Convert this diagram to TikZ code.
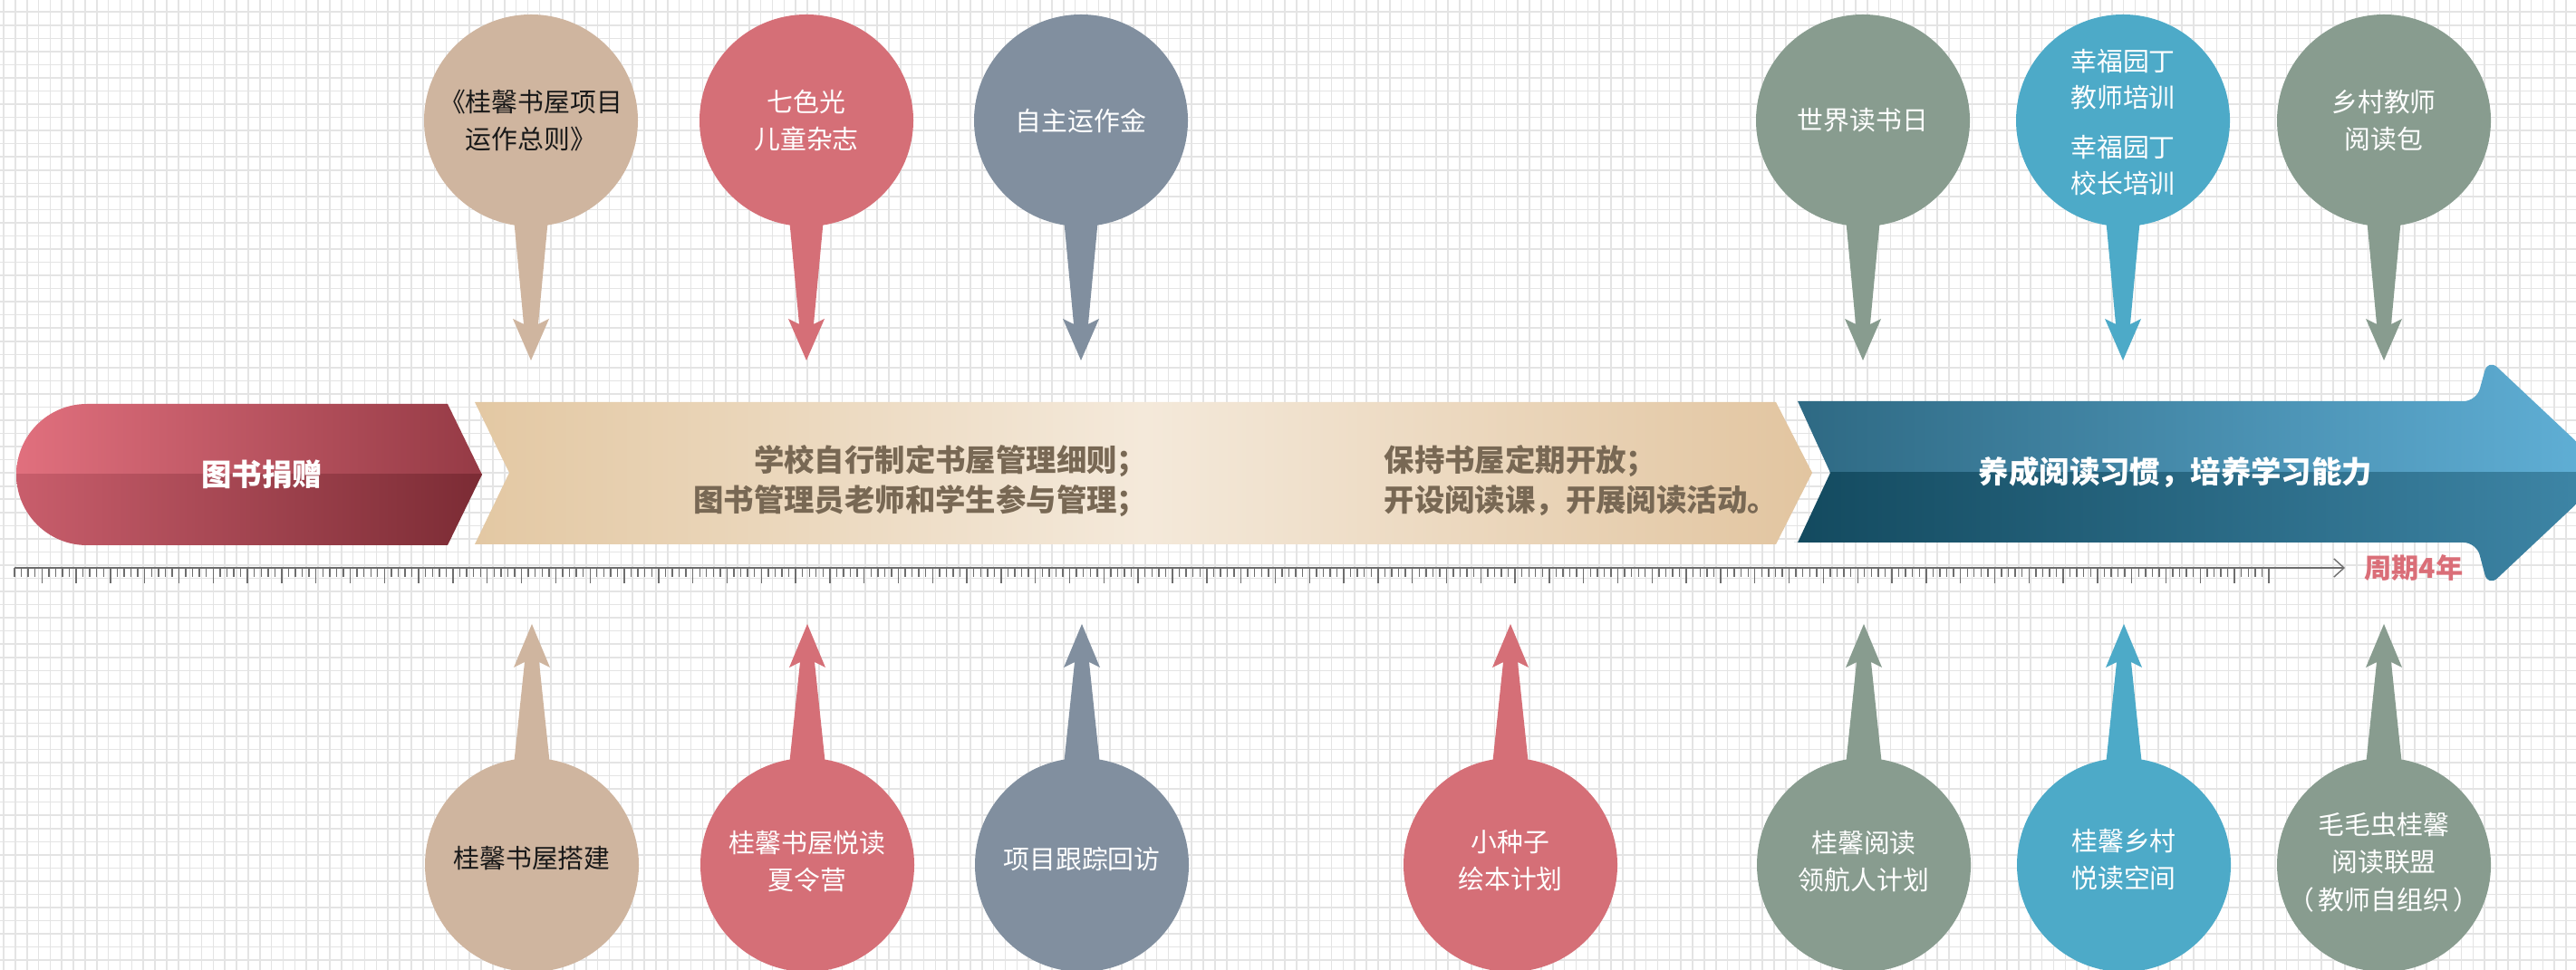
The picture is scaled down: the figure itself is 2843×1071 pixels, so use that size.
\documentclass[tikz,border=0pt]{standalone}
\usepackage{fontspec}
\newfontfamily\cjk{Noto Sans CJK SC}
\usetikzlibrary{shapes.geometric,arrows.meta}
\definecolor{gridc}{HTML}{E4E4E4}
\definecolor{ctan}{HTML}{CFB59F}
\definecolor{cpink}{HTML}{D56F77}
\definecolor{cslate}{HTML}{818F9F}
\definecolor{csage}{HTML}{889C8F}
\definecolor{cblue}{HTML}{4DAAC8}
\definecolor{pinkTL}{HTML}{E1707E}
\definecolor{pinkTR}{HTML}{953A45}
\definecolor{pinkBL}{HTML}{C95E6C}
\definecolor{pinkBR}{HTML}{7B2B34}
\definecolor{tanL}{HTML}{E3C8A3}
\definecolor{tanM}{HTML}{F4E9DA}
\definecolor{tanR}{HTML}{E2C5A0}
\definecolor{blueTL}{HTML}{2E6983}
\definecolor{blueTR}{HTML}{61B1D8}
\definecolor{blueBL}{HTML}{134A5F}
\definecolor{blueBR}{HTML}{3F87A8}
\definecolor{tantext}{HTML}{786854}
\definecolor{rulec}{HTML}{6E6E6E}
\definecolor{cycle4}{HTML}{DA6E78}
\newcommand\stemdown[2]{\fill[#2,shift={(#1.center)}] (-20,97) -- (-8,225) -- (-20,219) -- (0,265) -- (20,219) -- (8,225) -- (20,97) -- cycle;}
\newcommand\stemup[2]{\fill[#2,shift={(#1.center)}] (-20,-110) -- (-8,-224) -- (-20,-218) -- (0,-266) -- (20,-218) -- (8,-224) -- (20,-110) -- cycle;}
\tikzset{
  gridline/.style={draw=gridc,line width=0.45pt},
  bubble/.style={ellipse,minimum width=2.36cm,minimum height=2.34cm,inner sep=0pt,draw=none},
  ctext/.style={font=\cjk\fontsize{8.2pt}{11.8pt}\selectfont,align=center,text=white,inner sep=0pt},
  bandtext/.style={font=\cjk\bfseries\fontsize{9.5pt}{12.5pt}\selectfont,inner sep=0pt},
  tick/.style={draw=rulec,line width=0.4pt}
}
\begin{document}
\begin{tikzpicture}[x=0.01cm,y=-0.01cm]
\useasboundingbox (0,0) rectangle (2843,1071);
\clip (0,0) rectangle (2843,1071);
\fill[white] (0,0) rectangle (2843,1071);
% grid
\foreach \k in {0,...,221} \draw[gridline] ({4+12.855*\k},0) -- ({4+12.855*\k},1071);
\foreach \k in {0,...,73} \draw[gridline] (0,{13.3+14.54*\k}) -- (2843,{13.3+14.54*\k});
% pink band
\begin{scope}
\clip (494,446) -- (532,524) -- (494,602) -- (96,602) arc[start angle=90,end angle=270,radius=78] -- cycle;
\shade[left color=pinkTL,right color=pinkTR] (16,440) rectangle (534,524);
\shade[left color=pinkBL,right color=pinkBR] (16,524) rectangle (534,606);
\end{scope}
% tan band
\shade[left color=tanL,right color=tanR,middle color=tanM] (524,444) -- (562,522) -- (524,601) -- (1960,601) -- (2000,522) -- (1960,444) -- cycle;
% blue arrow
\begin{scope}
\clip (1990,443) [rounded corners=4pt] -- (2733,443) -- (2746,396) -- (2880,522) -- (2746,648) -- (2733,599) -- (1990,599) [sharp corners] -- (1984,599) -- (2020,522) -- (1984,443) -- cycle;
\shade[left color=blueTL,right color=blueTR] (1980,390) rectangle (2885,522);
\shade[left color=blueBL,right color=blueBR] (1980,522) rectangle (2885,655);
\end{scope}
% band texts
\node[bandtext,text=white] (p1) at (289,524) {图书捐赠};
\node[bandtext,text=tantext,align=right,anchor=east] (p2) at (1267,531) {学校自行制定书屋管理细则；\\图书管理员老师和学生参与管理；};
\node[bandtext,text=tantext,align=left,anchor=west] (p3) at (1527,531) {保持书屋定期开放；\\开设阅读课，开展阅读活动。};
\node[bandtext,text=white] (p4) at (2401,522) {养成阅读习惯，培养学习能力};
% ruler
\coordinate (r0) at (16,627);
\coordinate (r1) at (2588,627);
\draw[tick,-{Straight Barb[length=3.2pt,width=5.8pt]}] (r0) -- (r1);
\foreach \i in {0,...,329}{
  \pgfmathtruncatemacro\m{mod(\i,5)}
  \ifnum\m=4
    \draw[tick] ({16+7.562*\i},627) -- ++(0,17);
  \else
    \draw[tick] ({16+7.562*\i},627) -- ++(0,10);
  \fi
}
\node[font=\cjk\bfseries\fontsize{8.6pt}{10pt}\selectfont,text=cycle4,inner sep=0pt] (cyc) at (2664,627) {周期4年};
% top bubbles
\coordinate (T1) at (586,133);
\coordinate (T2) at (890,133);
\coordinate (T3) at (1193,133);
\coordinate (T4) at (2056,133);
\coordinate (T5) at (2343,133);
\coordinate (T6) at (2631,133);
\node[bubble] (t1) at (T1) {};
\node[bubble] (t2) at (T2) {};
\node[bubble] (t3) at (T3) {};
\node[bubble] (t4) at (T4) {};
\node[bubble] (t5) at (T5) {};
\node[bubble] (t6) at (T6) {};
\stemdown{t1}{ctan}
\stemdown{t2}{cpink}
\stemdown{t3}{cslate}
\stemdown{t4}{csage}
\stemdown{t5}{cblue}
\stemdown{t6}{csage}
\fill[ctan] (t1.center) ellipse[x radius=118,y radius=117];
\fill[cpink] (t2.center) ellipse[x radius=118,y radius=117];
\fill[cslate] (t3.center) ellipse[x radius=118,y radius=117];
\fill[csage] (t4.center) ellipse[x radius=118,y radius=117];
\fill[cblue] (t5.center) ellipse[x radius=118,y radius=117];
\fill[csage] (t6.center) ellipse[x radius=118,y radius=117];
\node[ctext,text=black!90] (t1x) at (t1) {《桂馨书屋项目\\运作总则》};
\node[ctext] (t2x) at (t2) {七色光\\儿童杂志};
\node[ctext] (t3x) at (t3) {自主运作金};
\node[ctext] (t4x) at (t4) {世界读书日};
\node[ctext,font=\cjk\fontsize{8.2pt}{11.4pt}\selectfont] (t5x) at ([yshift=-0.02cm]t5.center) {幸福园丁\\教师培训\\[4.3pt]幸福园丁\\校长培训};
\node[ctext] (t6x) at (t6) {乡村教师\\阅读包};
% bottom bubbles
\node[bubble] (b1) at (587,955) {};
\node[bubble] (b2) at (891,955) {};
\node[bubble] (b3) at (1194,955) {};
\node[bubble] (b4) at (1667,955) {};
\node[bubble] (b5) at (2057,955) {};
\node[bubble] (b6) at (2344,955) {};
\node[bubble] (b7) at (2631,955) {};
\stemup{b1}{ctan}
\stemup{b2}{cpink}
\stemup{b3}{cslate}
\stemup{b4}{cpink}
\stemup{b5}{csage}
\stemup{b6}{cblue}
\stemup{b7}{csage}
\fill[ctan] (b1.center) ellipse[x radius=118,y radius=118];
\fill[cpink] (b2.center) ellipse[x radius=118,y radius=118];
\fill[cslate] (b3.center) ellipse[x radius=118,y radius=118];
\fill[cpink] (b4.center) ellipse[x radius=118,y radius=118];
\fill[csage] (b5.center) ellipse[x radius=118,y radius=118];
\fill[cblue] (b6.center) ellipse[x radius=118,y radius=118];
\fill[csage] (b7.center) ellipse[x radius=118,y radius=118];
\node[ctext,text=black!90] (b1x) at ([yshift=0.07cm]b1.center) {桂馨书屋搭建};
\node[ctext] (b2x) at ([yshift=0.04cm]b2.center) {桂馨书屋悦读\\夏令营};
\node[ctext] (b3x) at ([yshift=0.06cm]b3.center) {项目跟踪回访};
\node[ctext] (b4x) at ([yshift=0.05cm]b4.center) {小种子\\绘本计划};
\node[ctext] (b5x) at ([yshift=0.04cm]b5.center) {桂馨阅读\\领航人计划};
\node[ctext] (b6x) at ([yshift=0.06cm]b6.center) {桂馨乡村\\悦读空间};
\node[ctext] (b7x) at ([yshift=0.03cm]b7.center) {毛毛虫桂馨\\阅读联盟\\（\,教师自组织\,）};
\end{tikzpicture}
\end{document}
